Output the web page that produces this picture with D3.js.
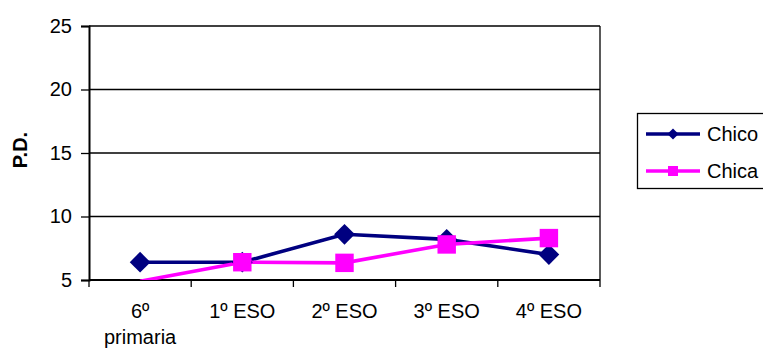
<!DOCTYPE html>
<html>
<head>
<meta charset="utf-8">
<script src="https://cdn.jsdelivr.net/npm/d3@7"></script>
<style>
  html, body { margin: 0; padding: 0; background: #fff; }
  svg { display: block; font-family: "Liberation Sans", Arial, sans-serif; }
</style>
</head>
<body>
<svg id="chart" width="763" height="351"></svg>
<script>
// Course levels on the x axis (the first one wraps onto two lines)
const categories = [["6º", "primaria"], ["1º ESO"], ["2º ESO"], ["3º ESO"], ["4º ESO"]];
const chico = [6.4, 6.4, 8.6, 8.2, 7.0];
const chica = [4.9, 6.4, 6.35, 7.8, 8.3];
const yTicks = [5, 10, 15, 20, 25];
const seriesNames = ["Chico", "Chica"];

const FONT = "Liberation Sans, Arial, sans-serif";
const svg = d3.select("#chart");
const plot = { left: 89, right: 600, top: 26, bottom: 280 };

const x = d3.scaleBand()
  .domain(d3.range(categories.length))
  .range([plot.left, plot.right])
  .padding(0);
const y = d3.scaleLinear().domain([5, 25]).range([plot.bottom, plot.top]);

// Horizontal gridlines
svg.append("g")
  .selectAll("line")
  .data(yTicks)
  .join("line")
  .attr("x1", plot.left).attr("x2", plot.right)
  .attr("y1", d => y(d)).attr("y2", d => y(d))
  .attr("stroke", "#000").attr("stroke-width", 1.3);

// Plot area right border
svg.append("line")
  .attr("x1", plot.right).attr("x2", plot.right)
  .attr("y1", plot.top).attr("y2", plot.bottom)
  .attr("stroke", "#000").attr("stroke-width", 1.3);

// Y axis
const yAxis = svg.append("g")
  .attr("transform", `translate(${plot.left},0)`)
  .call(d3.axisLeft(y).tickValues(yTicks).tickSize(8).tickPadding(9));
yAxis.select(".domain").attr("stroke-width", 2);
yAxis.selectAll(".tick line").attr("stroke-width", 1.3);
yAxis.selectAll("text").attr("font-size", 20).attr("fill", "#000")
  .attr("font-family", FONT);

// X axis: ticks between categories
const bounds = d3.range(categories.length + 1).map(i => plot.left + i * x.bandwidth());
const xg = svg.append("g");
xg.append("line")
  .attr("x1", plot.left).attr("x2", plot.right)
  .attr("y1", plot.bottom).attr("y2", plot.bottom)
  .attr("stroke", "#000").attr("stroke-width", 2);
xg.selectAll("line.tk")
  .data(bounds)
  .join("line")
  .attr("class", "tk")
  .attr("x1", d => d).attr("x2", d => d)
  .attr("y1", plot.bottom).attr("y2", plot.bottom + 7)
  .attr("stroke", "#000").attr("stroke-width", 1.3);

const cx = i => x(i) + x.bandwidth() / 2;
xg.selectAll("text.cat")
  .data(categories)
  .join("text")
  .attr("class", "cat")
  .attr("x", (d, i) => cx(i))
  .attr("y", 318)
  .attr("text-anchor", "middle")
  .attr("font-size", 20)
  .attr("font-family", FONT)
  .attr("fill", "#000")
  .selectAll("tspan")
  .data(d => d)
  .join("tspan")
  .attr("x", function () { return this.parentNode.getAttribute("x"); })
  .attr("dy", (d, j) => j === 0 ? 0 : 26)
  .text(d => d);

// Y axis title
svg.append("text")
  .attr("transform", `translate(27,150) rotate(-90)`)
  .attr("text-anchor", "middle")
  .attr("font-size", 20)
  .attr("font-family", FONT)
  .attr("font-weight", "bold")
  .text("P.D.");

// Series
svg.append("defs").append("clipPath").attr("id", "plotclip")
  .append("rect")
  .attr("x", plot.left).attr("y", plot.top)
  .attr("width", plot.right - plot.left).attr("height", plot.bottom - plot.top);

const line = d3.line().x((d, i) => cx(i)).y(d => y(d));
const series = [
  { name: "Chico", values: chico, color: "#000080", rot: 45, size: 215, legendSize: 62 },
  { name: "Chica", values: chica, color: "#FF00FF", rot: 0, size: 340, legendSize: 100 }
];

series.forEach(s => {
  svg.append("path")
    .datum(s.values)
    .attr("d", line)
    .attr("fill", "none")
    .attr("stroke", s.color)
    .attr("stroke-width", 3.6)
    .attr("clip-path", "url(#plotclip)");
});
series.forEach(s => {
  const sym = d3.symbol().type(d3.symbolSquare).size(s.size);
  svg.append("g")
    .selectAll("path")
    .data(s.values.map((v, i) => ({ v, i })).filter(d => d.v >= y.domain()[0]))
    .join("path")
    .attr("d", sym)
    .attr("transform", d => `translate(${cx(d.i)},${y(d.v)}) rotate(${s.rot})`)
    .attr("fill", s.color);
});

// Legend
const legend = svg.append("g");
legend.append("rect")
  .attr("x", 637.5).attr("y", 113.5)
  .attr("width", 130).attr("height", 75)
  .attr("fill", "#fff").attr("stroke", "#000").attr("stroke-width", 1.3);
series.forEach((s, k) => {
  const ly = 134 + k * 37;
  legend.append("line")
    .attr("x1", 646).attr("x2", 700)
    .attr("y1", ly).attr("y2", ly)
    .attr("stroke", s.color).attr("stroke-width", 3.6);
  legend.append("path")
    .attr("d", d3.symbol().type(d3.symbolSquare).size(s.legendSize))
    .attr("transform", `translate(673,${ly}) rotate(${s.rot})`)
    .attr("fill", s.color);
  legend.append("text")
    .attr("x", 707).attr("y", ly + 7)
    .attr("font-size", 20)
    .attr("font-family", FONT)
    .text(seriesNames[k]);
});
</script>
</body>
</html>
